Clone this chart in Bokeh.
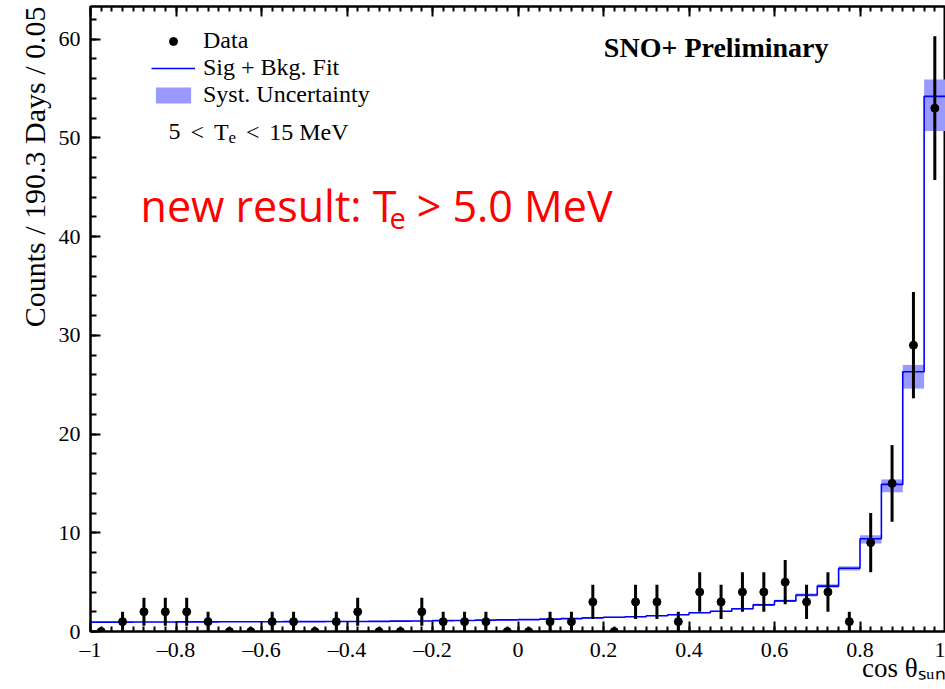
import numpy as np
from bokeh.plotting import figure
from bokeh.models import (Range1d, FixedTicker, LinearAxis, Label, Legend, LegendItem,
                          ColumnDataSource, CustomJSTickFormatter, Title)
from bokeh.embed import file_html
from bokeh.resources import INLINE

# ---------------- data ----------------
bin_edges = np.round(np.linspace(-1.0, 1.0, 41), 3)
bin_centers = np.round((bin_edges[:-1] + bin_edges[1:]) / 2, 4)

counts = [0, 1, 2, 2, 2, 1, 0, 0, 1, 1,
          0, 1, 2, 0, 0, 2, 1, 1, 1, 0,
          0, 1, 1, 3, 0, 3, 3, 1, 4, 3,
          4, 4, 5, 3, 4, 1, 9, 15, 29, 53]

fit = [0.95, 0.95, 0.96, 0.96, 0.97, 0.97, 0.98, 0.98, 0.99, 1.00,
       1.00, 1.01, 1.02, 1.03, 1.05, 1.07, 1.10, 1.12, 1.15, 1.18,
       1.20, 1.25, 1.30, 1.38, 1.45, 1.50, 1.60, 1.70, 1.90, 2.05,
       2.30, 2.70, 3.10, 3.70, 4.60, 6.40, 9.40, 14.90, 26.30, 54.20]

syst_dn = [0.03, 0.03, 0.03, 0.03, 0.03, 0.03, 0.03, 0.03, 0.03, 0.03,
           0.03, 0.03, 0.03, 0.03, 0.03, 0.03, 0.03, 0.03, 0.04, 0.04,
           0.04, 0.04, 0.04, 0.04, 0.05, 0.05, 0.05, 0.05, 0.06, 0.06,
           0.08, 0.10, 0.12, 0.15, 0.18, 0.22, 0.50, 0.80, 1.70, 3.50]
syst_up = [0.03, 0.03, 0.03, 0.03, 0.03, 0.03, 0.03, 0.03, 0.03, 0.03,
           0.03, 0.03, 0.03, 0.03, 0.03, 0.03, 0.03, 0.03, 0.04, 0.04,
           0.04, 0.04, 0.04, 0.04, 0.05, 0.05, 0.05, 0.05, 0.06, 0.06,
           0.08, 0.10, 0.12, 0.15, 0.18, 0.22, 0.35, 0.50, 0.70, 1.70]

x_ticks = [-1.0, -0.8, -0.6, -0.4, -0.2, 0.0, 0.2, 0.4, 0.6, 0.8, 1.0]
y_ticks = [0, 10, 20, 30, 40, 50, 60]

# ---------------- derived columns ----------------
cnt = np.array(counts, dtype=float)
err = np.sqrt(cnt)
pts = ColumnDataSource(dict(x=bin_centers, y=cnt, lo=cnt - err, hi=cnt + err))
band = ColumnDataSource(dict(left=bin_edges[:-1], right=bin_edges[1:],
                             bottom=np.array(fit) - np.array(syst_dn),
                             top=np.array(fit) + np.array(syst_up)))
step_src = ColumnDataSource(dict(x=bin_edges, y=list(fit) + [fit[-1]]))

SERIF = "Liberation Serif"

p = figure(width=945, height=689, output_backend="svg", toolbar_location=None,
           x_range=Range1d(-1.0, 1.0), y_range=Range1d(0, 63.3),
           min_border_left=90, min_border_right=0, min_border_top=6,
           min_border_bottom=58, background_fill_color="white",
           border_fill_color="white")
p.grid.visible = False
p.outline_line_color = "black"
p.outline_line_width = 2

# band, fit line, data
r_s = p.quad(left="left", right="right", bottom="bottom", top="top", source=band,
             fill_color="#9999ff", fill_alpha=1.0, line_color=None)
r_f = p.step(x="x", y="y", source=step_src, mode="after", line_color="#0000ff",
             line_width=1.6)
p.segment(x0="x", y0="lo", x1="x", y1="hi", source=pts, line_color="black",
          line_width=3)
r_d = p.scatter(x="x", y="y", source=pts, size=8, color="black")

# axes styling
def style_axis(ax, ticker, minor, tick_in, minor_in):
    ax.ticker = FixedTicker(ticks=ticker, minor_ticks=minor)
    ax.axis_line_width = 2
    ax.major_tick_line_width = 2
    ax.minor_tick_line_width = 2
    ax.major_tick_in = tick_in
    ax.major_tick_out = 0
    ax.minor_tick_in = minor_in
    ax.minor_tick_out = 0
    ax.major_label_text_font = SERIF
    ax.major_label_text_font_size = "22px"
    ax.major_label_text_color = "black"
    ax.axis_label = None

x_minor = list(np.round(np.arange(-1.0, 1.0001, 0.025), 4))
y_minor = list(range(0, 64, 2))

fmt = CustomJSTickFormatter(code="""
const a = Math.abs(tick);
if (a < 1e-9) return "0";
const s = (Math.round(a * 10) / 10).toString();
return tick < 0 ? "\u2013" + s : s;
""")

style_axis(p.xaxis[0], x_ticks, x_minor, 10, 5)
p.xaxis[0].formatter = fmt
p.xaxis[0].major_label_standoff = 5
style_axis(p.yaxis[0], y_ticks, y_minor, 10, 6)
p.yaxis[0].major_label_standoff = 10

top_ax = LinearAxis()
style_axis(top_ax, x_ticks, x_minor, 10, 5)
top_ax.formatter = CustomJSTickFormatter(code='return "";')
top_ax.major_label_text_font_size = "0px"
top_ax.major_label_standoff = 0
p.add_layout(top_ax, "above")

# axis titles (ROOT style: aligned to the end of each axis)
p.add_layout(Title(text="Counts / 190.3 Days / 0.05", align="right",
                   text_font=SERIF, text_font_size="30px", text_color="black",
                   text_font_style="normal", standoff=10), "left")
p.add_layout(Title(text="cos θₛᵤₙ", align="right", text_font=SERIF,
                   text_font_size="27px", text_font_style="normal",
                   text_color="black", standoff=-28, offset=0), "below")

# legend
legend = Legend(items=[LegendItem(label="Data", renderers=[r_d]),
                       LegendItem(label="Sig + Bkg. Fit", renderers=[r_f]),
                       LegendItem(label="Syst. Uncertainty", renderers=[r_s])],
                location=(61, 523), padding=0, spacing=0, margin=0,
                glyph_width=44, glyph_height=20, label_standoff=8,
                label_text_font=SERIF, label_text_font_size="24px",
                label_text_color="black",
                border_line_color=None, background_fill_alpha=0)
p.add_layout(legend)

def lab(x, y, text, size, font=SERIF, align="left", baseline="middle",
        color="black", style="normal", angle=0):
    p.add_layout(Label(x=x, y=y, text=text, text_font=font,
                       text_font_size=size, text_align=align,
                       text_baseline=baseline, text_color=color,
                       text_font_style=style, angle=angle))

# annotations
lab(0.7263, 59.14, "SNO+ Preliminary", "28px", align="right", style="bold")
lab(-0.8175, 50.63, "5", "24px")
lab(-0.7661, 50.63, "<", "24px")
lab(-0.7113, 50.63, "T", "24px")
lab(-0.6772, 50.03, "e", "17px")
lab(-0.6365, 50.63, "<", "24px")
lab(-0.3965, 50.63, "15 MeV", "24px", align="right")

lab(-0.8830, 43.15, "new result: T", "43px", font="Open Sans",
    color="#ff0000")
lab(-0.3006, 41.85, "e", "29px", font="Open Sans", color="#ff0000")
lab(0.2211, 43.15, "> 5.0 MeV", "43px", font="Open Sans", align="right",
    color="#ff0000")

open("out.html", "w").write(file_html(p, INLINE))
